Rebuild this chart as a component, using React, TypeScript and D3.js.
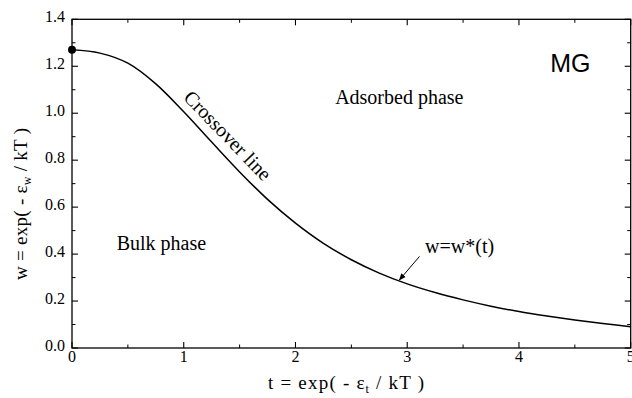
import React from 'react';
import * as d3 from 'd3';

// crossover line w*(t)
const tValues = [0, 0.25, 0.5, 0.75, 1.0, 1.25, 1.5, 1.75, 2.0, 2.25, 2.5, 2.75, 3.0, 3.25, 3.5, 3.75, 4.0, 4.25, 4.5, 4.75, 5.0];
const wValues = [1.27, 1.256, 1.213, 1.125, 1.006, 0.877, 0.75, 0.633, 0.532, 0.446, 0.376, 0.319, 0.273, 0.236, 0.205, 0.178, 0.155, 0.136, 0.119, 0.104, 0.091];

const xTicks = [0, 1, 2, 3, 4, 5];
const yTicks = [0.0, 0.2, 0.4, 0.6, 0.8, 1.0, 1.2, 1.4];
const xMinor = [0.5, 1.5, 2.5, 3.5, 4.5];
const yMinor = [0.1, 0.3, 0.5, 0.7, 0.9, 1.1, 1.3];

const W = 632;
const H = 398;
const serif = "'Liberation Serif', 'Times New Roman', serif";

const App = () => {
  const x = d3.scaleLinear().domain([0, 5]).range([72, 630.7]);
  const y = d3.scaleLinear().domain([0, 1.4]).range([348, 19.3]);

  const pts: [number, number][] = tValues.map((t, i) => [t, wValues[i]]);
  const line = d3
    .line<[number, number]>()
    .x((d) => x(d[0]))
    .y((d) => y(d[1]))
    .curve(d3.curveCatmullRom.alpha(0.5));

  const [x0, x1] = x.range();
  const [y0, y1] = y.range();

  return (
    <svg width={W} height={H} style={{ position: 'absolute', left: 0, top: 0, background: '#fff' }}>
      <defs>
        <marker id="arr" viewBox="0 0 10 10" refX="9" refY="5" markerWidth="7" markerHeight="7" orient="auto">
          <path d="M0,1 L10,5 L0,9 z" fill="#000" />
        </marker>
      </defs>

      {/* frame */}
      <rect x={x0} y={y1} width={x1 - x0} height={y0 - y1} fill="none" stroke="#000" strokeWidth={1.3} />

      {/* x ticks */}
      {xTicks.map((t) => (
        <g key={'xt' + t}>
          <line x1={x(t)} x2={x(t)} y1={y0} y2={y0 - 6} stroke="#000" strokeWidth={1.1} />
          <line x1={x(t)} x2={x(t)} y1={y1} y2={y1 + 6} stroke="#000" strokeWidth={1.1} />
          <text x={x(t)} y={362} textAnchor="middle" fontFamily={serif} fontSize={16}>
            {t}
          </text>
        </g>
      ))}
      {xMinor.map((t) => (
        <g key={'xm' + t}>
          <line x1={x(t)} x2={x(t)} y1={y0} y2={y0 - 3.5} stroke="#000" strokeWidth={1} />
          <line x1={x(t)} x2={x(t)} y1={y1} y2={y1 + 3.5} stroke="#000" strokeWidth={1} />
        </g>
      ))}

      {/* y ticks */}
      {yTicks.map((w) => (
        <g key={'yt' + w}>
          <line x1={x0} x2={x0 + 6} y1={y(w)} y2={y(w)} stroke="#000" strokeWidth={1.1} />
          <line x1={x1} x2={x1 - 6} y1={y(w)} y2={y(w)} stroke="#000" strokeWidth={1.1} />
          <text x={65} y={y(w) + 3} textAnchor="end" fontFamily={serif} fontSize={16}>
            {w.toFixed(1)}
          </text>
        </g>
      ))}
      {yMinor.map((w) => (
        <g key={'ym' + w}>
          <line x1={x0} x2={x0 + 3.5} y1={y(w)} y2={y(w)} stroke="#000" strokeWidth={1} />
          <line x1={x1} x2={x1 - 3.5} y1={y(w)} y2={y(w)} stroke="#000" strokeWidth={1} />
        </g>
      ))}

      {/* crossover curve */}
      <path d={line(pts) ?? ''} fill="none" stroke="#000" strokeWidth={1.5} />
      <circle cx={x(tValues[0])} cy={y(wValues[0])} r={4} fill="#000" />

      {/* annotations */}
      <text x={x(4.28)} y={y(1.177)} fontFamily="'Liberation Sans', Arial, sans-serif" fontSize={25}>
        MG
      </text>
      <text x={x(2.355)} y={y(1.041)} fontFamily={serif} fontSize={20}>
        Adsorbed phase
      </text>
      <text x={x(0.4)} y={y(0.417)} fontFamily={serif} fontSize={20}>
        Bulk phase
      </text>
      <text
        transform={`translate(${x(1.35)},${y(0.885)}) rotate(46)`}
        textAnchor="middle"
        fontFamily={serif}
        fontSize={20}
      >
        Crossover line
      </text>
      <text x={x(3.16)} y={y(0.405)} fontFamily={serif} fontSize={20}>
        w=w*(t)
      </text>
      <line
        x1={x(3.11)}
        y1={y(0.39)}
        x2={x(2.93)}
        y2={y(0.29)}
        stroke="#000"
        strokeWidth={1}
        markerEnd="url(#arr)"
      />

      {/* axis titles */}
      <text x={346} y={389} textAnchor="middle" fontFamily={serif} fontSize={19} textLength={156} lengthAdjust="spacing">
        t = exp( - ε<tspan fontSize={12} dy={4}>t</tspan>
        <tspan dy={-4}> / kT )</tspan>
      </text>
      <text
        transform="translate(27,204) rotate(-90)"
        textAnchor="middle"
        fontFamily={serif}
        fontSize={19}
        textLength={152}
        lengthAdjust="spacing"
      >
        w = exp( - ε<tspan fontSize={12} dy={4}>w</tspan>
        <tspan dy={-4}> / kT )</tspan>
      </text>
    </svg>
  );
};

export default App;
